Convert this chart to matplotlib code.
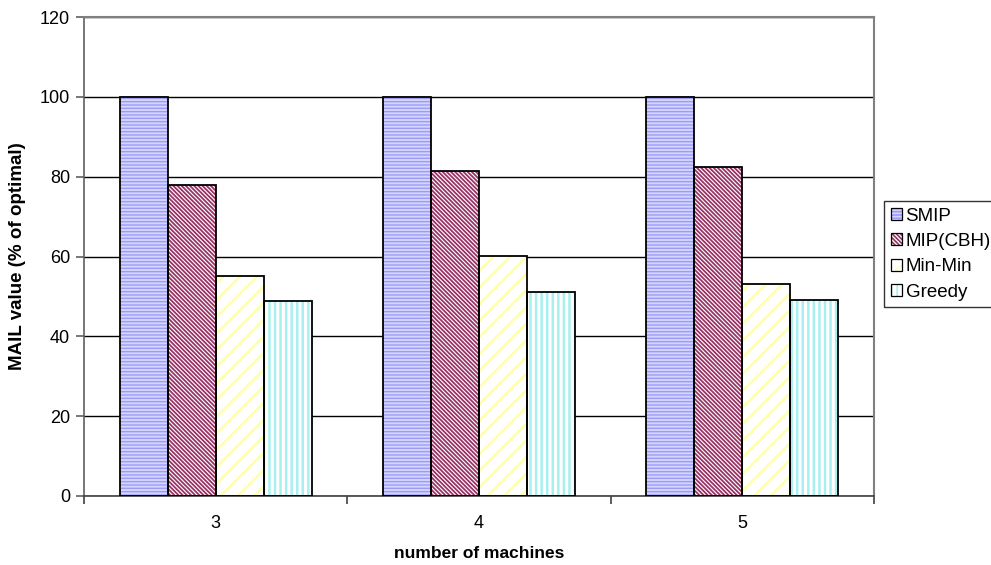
import numpy as np
import matplotlib
matplotlib.use('Agg')
import matplotlib.pyplot as plt
from matplotlib.patches import Patch
from matplotlib.legend_handler import HandlerTuple

plt.rcParams['font.family'] = ['Liberation Sans', 'DejaVu Sans']
plt.rcParams['hatch.linewidth'] = 1.2

# data
machines = ['3', '4', '5']
series = ['SMIP', 'MIP(CBH)', 'Min-Min', 'Greedy']
smip = [100, 100, 100]
mip_cbh = [77.8, 81.3, 82.3]
min_min = [55.1, 60.2, 53.1]
greedy = [48.9, 51.0, 49.0]
values = [smip, mip_cbh, min_min, greedy]

# excel-ish fills: (face, hatch colour, hatch pattern, hatch width)
styles = [('#d4d4ff', '#9c9cf6', '-----', 1.0),
          ('white', '#993366', '\\' * 8, 1.3),
          ('white', '#ffffb0', '//', 2.0),
          ('white', '#a8f0f0', '|||', 1.8)]


def hatched(patch, lw):
    if hasattr(patch, 'set_hatch_linewidth'):
        patch.set_hatch_linewidth(lw)
    return patch


fig = plt.figure(figsize=(9.91, 5.65), dpi=100)
ax = fig.add_axes([84/991, 1-496/565, (874-84)/991, (496-17)/565])

x = np.arange(len(machines))
w = 0.182
handles = []
for i, (vals, (fc, hc, hp, hl)) in enumerate(zip(values, styles)):
    pos = x + (i - 1.5) * w
    bars = ax.bar(pos, vals, w, color=fc, edgecolor=hc, hatch=hp, linewidth=0, zorder=2)
    for b in bars:
        hatched(b, hl)
    ax.bar(pos, vals, w, fill=False, edgecolor='black', linewidth=1.3, zorder=3)
    handles.append((hatched(Patch(facecolor=fc, edgecolor=hc, hatch=hp, linewidth=0), hl),
                    Patch(fill=False, edgecolor='black', linewidth=0.9)))

ax.set_xlim(-0.5, 2.5)
ax.set_ylim(0, 120)
ax.set_yticks(range(0, 121, 20))
ax.yaxis.grid(True, color='black', linewidth=1.0, zorder=1)
ax.set_axisbelow(True)

ax.set_xticks(x)
ax.set_xticklabels(machines)
ax.set_xticks([-0.5, 0.5, 1.5, 2.5], minor=True)
ax.tick_params(axis='x', which='major', length=0, pad=14, labelsize=13)
ax.tick_params(axis='x', which='minor', length=6, width=1.2, color='#404040', direction='out')
ax.tick_params(axis='y', length=6, width=1.2, color='#606060', labelsize=13, pad=4)

for s in ['top', 'right']:
    ax.spines[s].set_color('#808080')
    ax.spines[s].set_linewidth(1.5)
ax.spines['left'].set_color('#606060')
ax.spines['left'].set_linewidth(1.2)
ax.spines['bottom'].set_color('#404040')
ax.spines['bottom'].set_linewidth(1.2)

ax.set_ylabel('MAIL value (% of optimal)', fontsize=13.5, fontweight='bold', labelpad=10)
ax.set_xlabel('number of machines', fontsize=12.5, fontweight='bold', labelpad=10)

leg = fig.legend(handles, series, loc='upper left',
                 bbox_to_anchor=(884/991, 1-201/565), fontsize=13.5,
                 handler_map={tuple: HandlerTuple(ndivide=1, pad=0)},
                 handlelength=0.6, handleheight=0.6, handletextpad=0.2,
                 labelspacing=0.45, borderpad=0.35, borderaxespad=0,
                 frameon=True, fancybox=False, edgecolor='black')
leg.get_frame().set_linewidth(1.0)

fig.savefig('out.png', dpi=100)
